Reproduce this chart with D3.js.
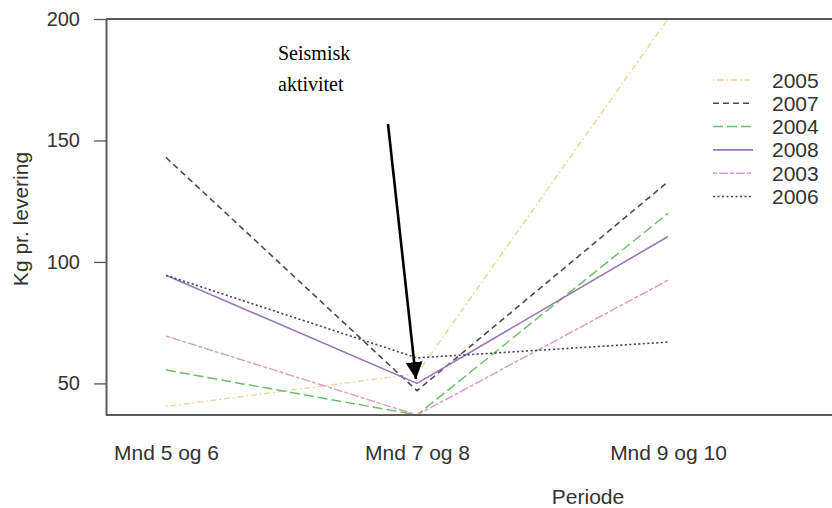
<!DOCTYPE html>
<html><head><meta charset="utf-8">
<script src="https://cdn.jsdelivr.net/npm/d3@7"></script>
<style>body{margin:0;background:#fff}</style>
</head><body><svg id="c" width="832" height="508"></svg>
<script>
const categories = ["Mnd 5 og 6", "Mnd 7 og 8", "Mnd 9 og 10"];
const years = ["2005", "2007", "2004", "2008", "2003", "2006"];
const v2005 = [40.5, 54, 200];
const v2007 = [143, 47, 133];
const v2004 = [55.5, 37, 120];
const v2008 = [94.5, 50, 110.5];
const v2003 = [69.5, 37, 92.5];
const v2006 = [94.5, 60.5, 67];
const yTicks = [50, 100, 150, 200];
const annotation = ["Seismisk", "aktivitet"];
const xTitle = "Periode";
const yTitle = "Kg pr. levering";

const values = {"2005": v2005, "2007": v2007, "2004": v2004, "2008": v2008, "2003": v2003, "2006": v2006};
const styles = {
  "2005": {color: "#e8d48a", dash: "1.5,3,6,3", w: 1.4},
  "2007": {color: "#4a4a4a", dash: "6,4", w: 1.6},
  "2004": {color: "#6cc06c", dash: "10,4", w: 1.5},
  "2008": {color: "#9a78b8", dash: null, w: 1.6},
  "2003": {color: "#d89ac8", dash: "4,2,9,2", w: 1.4},
  "2006": {color: "#3c3c6e", dash: "2,2.5", w: 1.6}
};

const svg = d3.select("#c");
const W = 832;
const FONT = "Liberation Sans, Arial, sans-serif";
const x = d3.scalePoint().domain(categories).range([166, 668]);
const y = d3.scaleLinear().domain([37, 200]).range([415, 19]);

// lines
const line = d3.line().x((d, i) => x(categories[i])).y(d => y(d));
years.forEach(yr => {
  const s = styles[yr];
  svg.append("path").datum(values[yr])
    .attr("d", line).attr("fill", "none")
    .attr("stroke", s.color).attr("stroke-width", s.w)
    .attr("stroke-dasharray", s.dash);
});

// frame
const frameColor = "#5a5a5a";
svg.append("line").attr("x1", 106).attr("x2", W).attr("y1", y(200)).attr("y2", y(200))
  .attr("stroke", frameColor).attr("stroke-width", 2);
svg.append("line").attr("x1", 106).attr("x2", W).attr("y1", y(37)).attr("y2", y(37))
  .attr("stroke", frameColor).attr("stroke-width", 2);

// y axis
const ya = svg.append("g").attr("transform", "translate(106,0)")
  .call(d3.axisLeft(y).tickValues(yTicks).tickSize(12).tickSizeOuter(0).tickPadding(14));
ya.select(".domain").attr("stroke", frameColor).attr("stroke-width", 2);
ya.selectAll(".tick line").attr("stroke", "#555").attr("stroke-width", 1.3);
ya.selectAll(".tick text").attr("font-family", FONT)
  .attr("font-size", 20).attr("fill", "#333");

// x axis labels
const xa = svg.append("g").attr("transform", `translate(0,${y(37)})`)
  .call(d3.axisBottom(x).tickSize(0).tickSizeOuter(0));
xa.select(".domain").remove();
xa.selectAll(".tick text").attr("font-family", FONT)
  .attr("font-size", 21).attr("fill", "#333").attr("y", 45).attr("dy", 0);

// axis titles
svg.append("text").attr("x", 588).attr("y", 504).attr("text-anchor", "middle")
  .attr("font-family", FONT).attr("font-size", 21)
  .attr("fill", "#333").text(xTitle);
svg.append("text").attr("transform", "translate(28,219) rotate(-90)").attr("text-anchor", "middle")
  .attr("font-family", FONT).attr("font-size", 21)
  .attr("fill", "#333").text(yTitle);

// legend
const lg = svg.append("g");
years.forEach((yr, i) => {
  const s = styles[yr];
  const cy = 80 + i * 23.3;
  lg.append("line").attr("x1", 713).attr("x2", 753).attr("y1", cy).attr("y2", cy)
    .attr("stroke", s.color).attr("stroke-width", s.w).attr("stroke-dasharray", s.dash);
  lg.append("text").attr("x", 772).attr("y", cy + 7.5)
    .attr("font-family", FONT).attr("font-size", 21)
    .attr("fill", "#333").text(yr);
});

// annotation
annotation.forEach((t, i) => {
  svg.append("text").attr("x", 278).attr("y", 60 + i * 31)
    .attr("font-family", "Liberation Serif, Times New Roman, serif").attr("font-size", 20)
    .attr("fill", "#000").text(t);
});
svg.append("defs").append("marker").attr("id", "ah")
  .attr("viewBox", "0 0 10 10").attr("refX", 10).attr("refY", 5)
  .attr("markerWidth", 6.5).attr("markerHeight", 6.5).attr("markerUnits", "strokeWidth")
  .attr("orient", "auto")
  .append("path").attr("d", "M0,0 L10,5 L0,10 z").attr("fill", "#000");
svg.append("line").attr("x1", 388).attr("y1", 124).attr("x2", 416).attr("y2", 379)
  .attr("stroke", "#000").attr("stroke-width", 2.6).attr("marker-end", "url(#ah)");
</script></body></html>
